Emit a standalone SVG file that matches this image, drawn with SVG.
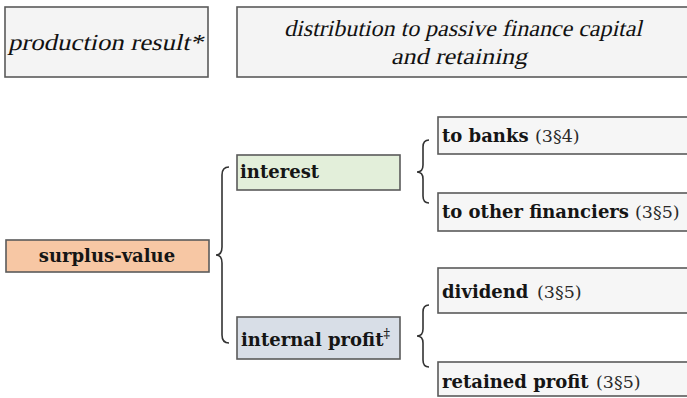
<svg xmlns="http://www.w3.org/2000/svg" width="687" height="398" viewBox="0 0 687 398">
<style>
.box{stroke:#5a5a5a;stroke-width:1.6}
.hdr{fill:#f4f4f4}
.leaf{fill:#f6f6f6}
.it{font-family:"Liberation Serif","DejaVu Serif",serif;font-style:normal;font-size:23px;fill:#111}
.lb{font-family:"DejaVu Serif","Liberation Serif",serif;font-weight:bold;font-size:18px;fill:#151515}
.ref{font-family:"DejaVu Serif","Liberation Serif",serif;font-weight:normal;font-size:17.5px;fill:#2a2a2a}
.brace{fill:none;stroke:#333;stroke-width:1.6}
</style>
<rect width="687" height="398" fill="#ffffff"/>
<g id="hdr-production">
<rect class="box hdr" x="5" y="7" width="203" height="70"/>
<g transform="translate(8,50) skewX(-13)"><text class="it" x="0" y="0" textLength="195" lengthAdjust="spacingAndGlyphs">production result*</text></g>
</g>
<g id="hdr-distribution">
<rect class="box hdr" x="237" y="7" width="455" height="70"/>
<g transform="translate(284,36) skewX(-13)"><text class="it" x="0" y="0" textLength="358" lengthAdjust="spacingAndGlyphs">distribution to passive finance capital</text></g>
<g transform="translate(391,64) skewX(-13)"><text class="it" x="0" y="0" textLength="136" lengthAdjust="spacingAndGlyphs">and retaining</text></g>
</g>
<g id="surplus-value">
<rect class="box" x="6" y="240" width="203" height="32" fill="#f7c7a4"/>
<text class="lb" x="107" y="262" text-anchor="middle">surplus-value</text>
</g>
<g id="interest">
<rect class="box" x="237" y="155" width="163" height="35" fill="#e3efda"/>
<text class="lb" x="240" y="178">interest</text>
</g>
<g id="internal-profit">
<rect class="box" x="237" y="317" width="163" height="42" fill="#d8dee7"/>
<text class="lb" x="241" y="346" font-size="17">internal profit<tspan font-weight="normal" font-size="13" dy="-8">‡</tspan></text>
</g>
<g id="to-banks">
<rect class="box leaf" x="438" y="117" width="260" height="37"/>
<text class="lb" x="442" y="142">to banks</text>
<text class="ref" x="535" y="142">(3§4)</text>
</g>
<g id="to-other-financiers">
<rect class="box leaf" x="438" y="193" width="260" height="38"/>
<text class="lb" x="442" y="218">to other financiers</text>
<text class="ref" x="635" y="218">(3§5)</text>
</g>
<g id="dividend">
<rect class="box leaf" x="438" y="268" width="260" height="45"/>
<text class="lb" x="442" y="298">dividend</text>
<text class="ref" x="537" y="298">(3§5)</text>
</g>
<g id="retained-profit">
<rect class="box leaf" x="438" y="362" width="260" height="34"/>
<text class="lb" x="442" y="388">retained profit</text>
<text class="ref" x="596" y="388">(3§5)</text>
</g>
<g id="connectors">
<path class="brace" d="M229,167 Q222,167 222,175 L222,247 Q222,255 216,255 Q222,255 222,263 L222,335 Q222,343 229,343"/>
<path class="brace" d="M429,140 Q423,140 423,147 L423,165 Q423,172 417,172 Q423,172 423,179 L423,196 Q423,203 429,203"/>
<path class="brace" d="M429,305 Q423,305 423,312 L423,329 Q423,336 417,336 Q423,336 423,343 L423,360 Q423,367 429,367"/>
</g>
</svg>
